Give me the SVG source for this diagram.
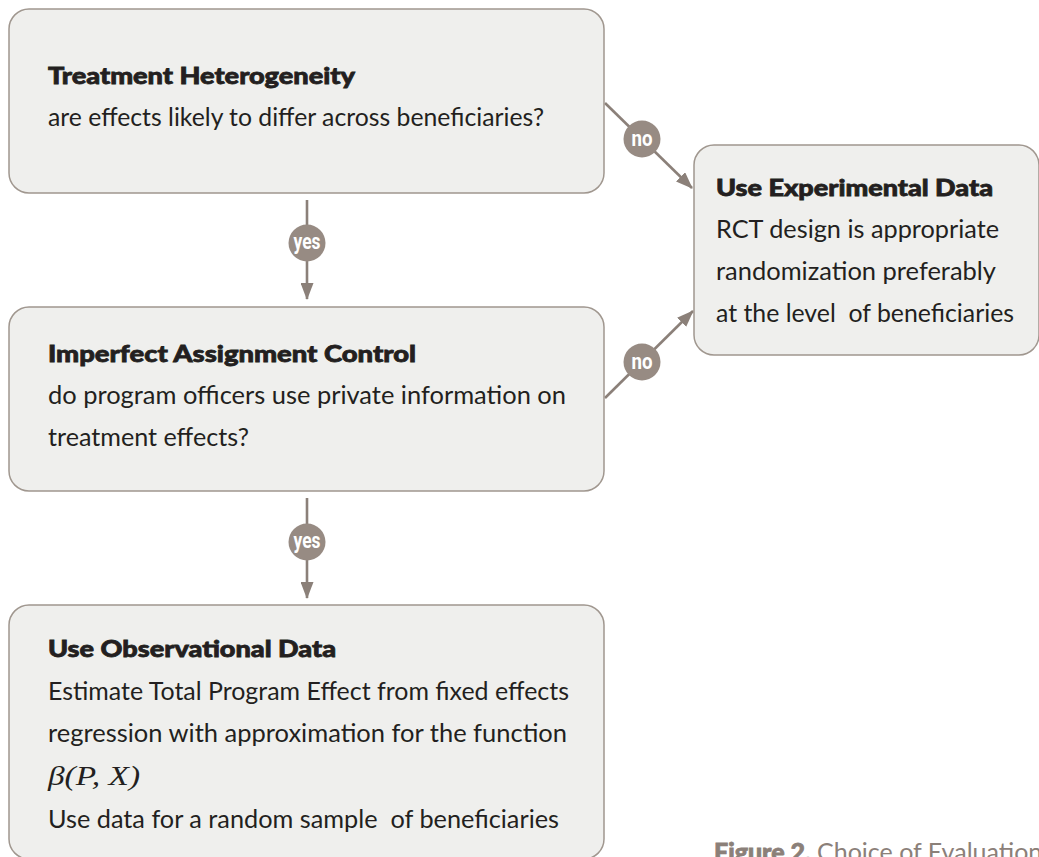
<svg xmlns="http://www.w3.org/2000/svg" width="1039" height="857" viewBox="0 0 1039 857">
<defs>
<style>
.box{fill:#efefed;stroke:#a0978f;stroke-width:1.5}
.title{font-family:Lato,"Open Sans",sans-serif;font-weight:900;font-size:23.5px;fill:#231f20;stroke:#231f20;stroke-width:0.8}
.body{font-family:Lato,"Open Sans",sans-serif;font-weight:400;font-size:25.5px;fill:#231f20}
.math{font-family:"Liberation Serif","DejaVu Serif",serif;font-style:italic;font-size:27px;fill:#231f20}
.conn{stroke:#8b8079;stroke-width:2.6;fill:none}
.badge{fill:#978b83}
.lbl{font-family:"Liberation Sans Narrow","Roboto",sans-serif;font-weight:700;font-size:22px;fill:#ffffff;text-anchor:middle}
.capb{font-family:Lato,"Open Sans",sans-serif;font-weight:900;font-size:25px;fill:#8b8079;stroke:#8b8079;stroke-width:0.8}
.capr{font-family:Lato,"Open Sans",sans-serif;font-weight:400;font-size:25px;fill:#8b8079}
</style>
<marker id="arr" viewBox="0 0 17 13" refX="16" refY="6.5" markerWidth="17" markerHeight="13" markerUnits="userSpaceOnUse" orient="auto">
<path d="M0,0 L17,6.5 L0,13 z" fill="#8b8079"/>
</marker>
</defs>
<rect width="1039" height="857" fill="#ffffff"/>

<g id="connectors">
<line class="conn" x1="605" y1="103" x2="692" y2="188" marker-end="url(#arr)"/>
<line class="conn" x1="605" y1="398" x2="693" y2="311" marker-end="url(#arr)"/>
<line class="conn" x1="307" y1="200" x2="307" y2="299" marker-end="url(#arr)"/>
<line class="conn" x1="307" y1="498" x2="307" y2="598" marker-end="url(#arr)"/>
<circle class="badge" cx="642" cy="139" r="18.5"/>
<text class="lbl" x="642" y="146" textLength="21" lengthAdjust="spacingAndGlyphs">no</text>
<circle class="badge" cx="642" cy="362" r="18.5"/>
<text class="lbl" x="642" y="369" textLength="21" lengthAdjust="spacingAndGlyphs">no</text>
<circle class="badge" cx="307" cy="243" r="18.5"/>
<text class="lbl" x="307" y="249" textLength="27" lengthAdjust="spacingAndGlyphs">yes</text>
<circle class="badge" cx="307" cy="542" r="18.5"/>
<text class="lbl" x="307" y="548" textLength="27" lengthAdjust="spacingAndGlyphs">yes</text>
</g>

<g id="node-heterogeneity">
<rect class="box" x="9" y="9" width="595" height="184" rx="20"/>
<text class="title" x="48" y="84" textLength="307" lengthAdjust="spacingAndGlyphs">Treatment Heterogeneity</text>
<text class="body" x="48" y="126" textLength="496" lengthAdjust="spacingAndGlyphs">are effects likely to differ across beneficiaries?</text>
</g>

<g id="node-experimental">
<rect class="box" x="694" y="145" width="345" height="210" rx="20"/>
<text class="title" x="716" y="196" textLength="277" lengthAdjust="spacingAndGlyphs">Use Experimental Data</text>
<text class="body" x="716" y="238" textLength="283" lengthAdjust="spacingAndGlyphs">RCT design is appropriate</text>
<text class="body" x="716" y="280" textLength="280" lengthAdjust="spacingAndGlyphs">randomization preferably</text>
<text class="body" x="716" y="322" textLength="298" lengthAdjust="spacingAndGlyphs" xml:space="preserve">at the level  of beneficiaries</text>
</g>

<g id="node-assignment">
<rect class="box" x="9" y="307" width="595" height="184" rx="20"/>
<text class="title" x="48" y="362" textLength="368" lengthAdjust="spacingAndGlyphs">Imperfect Assignment Control</text>
<text class="body" x="48" y="404" textLength="518" lengthAdjust="spacingAndGlyphs">do program officers use private information on</text>
<text class="body" x="48" y="446" textLength="201" lengthAdjust="spacingAndGlyphs">treatment effects?</text>
</g>

<g id="node-observational">
<rect class="box" x="9" y="605" width="595" height="254" rx="20"/>
<text class="title" x="48" y="657" textLength="288" lengthAdjust="spacingAndGlyphs">Use Observational Data</text>
<text class="body" x="48" y="700" textLength="521" lengthAdjust="spacingAndGlyphs">Estimate Total Program Effect from fixed effects</text>
<text class="body" x="48" y="742" textLength="519" lengthAdjust="spacingAndGlyphs">regression with approximation for the function</text>
<text class="math" x="48" y="785" textLength="92" lengthAdjust="spacingAndGlyphs">β(P, X)</text>
<text class="body" x="48" y="828" textLength="511" lengthAdjust="spacingAndGlyphs" xml:space="preserve">Use data for a random sample  of beneficiaries</text>
</g>

<g id="caption">
<text x="714" y="861"><tspan class="capb">Figure 2.</tspan><tspan class="capr" dx="6">Choice of Evaluation (</tspan></text>
</g>
</svg>
